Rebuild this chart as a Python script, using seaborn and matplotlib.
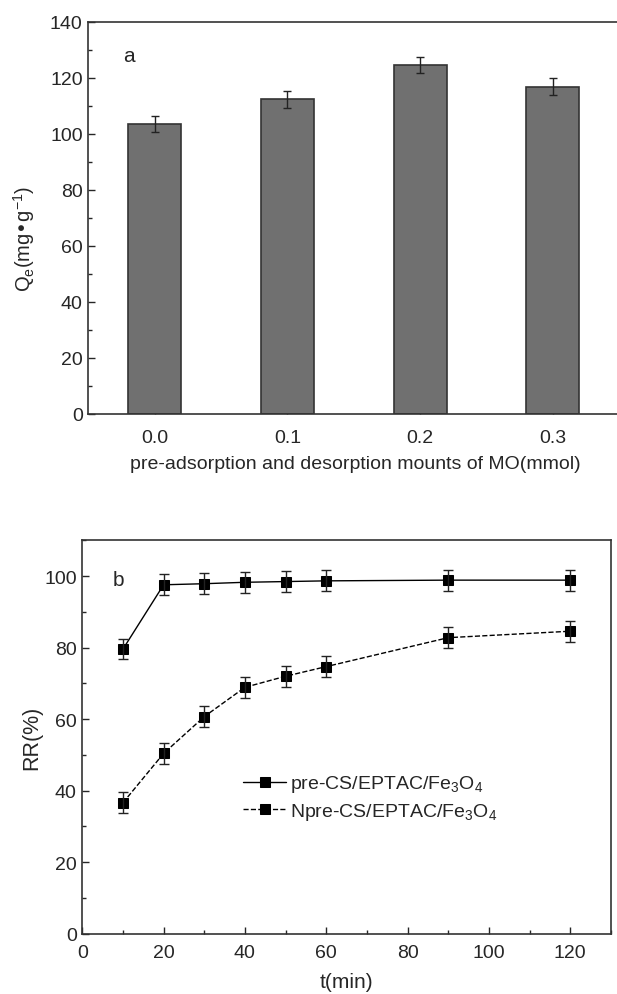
import seaborn as sns
import matplotlib.pyplot as plt
import numpy as np
import pandas as pd
from matplotlib.ticker import MultipleLocator

# panel a: Qe vs pre-adsorption amount
mo_amount = [0.0, 0.1, 0.2, 0.3]
qe_values = [103.5, 112.4, 124.7, 116.9]
qe_errors = [3.0, 3.0, 2.9, 3.0]

# panel b: removal ratio vs time
t_min = [10, 20, 30, 40, 50, 60, 90, 120]
rr_pre = [79.6, 97.6, 97.9, 98.3, 98.5, 98.7, 98.9, 98.9]
rr_npre = [36.6, 50.4, 60.7, 68.9, 72.0, 74.7, 82.8, 84.6]
rr_err = [2.9, 2.9, 2.9, 2.9, 2.9, 2.9, 2.9, 2.9]

sns.set_style("ticks")
plt.rcParams['font.family'] = ['Liberation Sans', 'DejaVu Sans']
plt.rcParams['xtick.direction'] = 'in'
plt.rcParams['ytick.direction'] = 'in'

fig = plt.figure(figsize=(6.17, 9.95), dpi=100)
# top panel runs past the right edge of the image (no right spine visible)
ax1 = fig.add_axes([0.143, 0.583, 0.867, 0.394])
ax2 = fig.add_axes([0.1334, 0.0608, 0.8566, 0.395])

# ---- panel a
df_a = pd.DataFrame({"mo": mo_amount, "qe": qe_values})
sns.barplot(data=df_a, x="mo", y="qe", native_scale=True, width=0.4,
            color="#707070", saturation=1, edgecolor="#333333", linewidth=1.2,
            errorbar=None, ax=ax1)
ax1.errorbar(mo_amount, qe_values, yerr=qe_errors, fmt="none", ecolor="#222222",
             elinewidth=1, capsize=3, capthick=1)
ax1.set_xlim(-0.05, 0.353)
ax1.set_ylim(0, 140)
ax1.set_xticks(mo_amount)
ax1.set_xticklabels(["0.0", "0.1", "0.2", "0.3"])
ax1.yaxis.set_major_locator(MultipleLocator(20))
ax1.yaxis.set_minor_locator(MultipleLocator(10))
ax1.set_xlabel("pre-adsorption and desorption mounts of MO(mmol)", fontsize=14, labelpad=6)
ax1.set_ylabel(r"Q$_\mathregular{e}$(mg•g$^\mathregular{-1}$)", fontsize=14.5, labelpad=2)
ax1.yaxis.set_label_coords(-0.095, 0.45)
ax1.text(0.066, 0.915, "a", transform=ax1.transAxes, fontsize=15, va="center")

# ---- panel b
sns.lineplot(x=t_min, y=rr_pre, ax=ax2, color="black", linewidth=1,
             marker="s", markersize=6.5, markeredgecolor="black",
             label=r"pre-CS/EPTAC/Fe$_\mathregular{3}$O$_\mathregular{4}$")
sns.lineplot(x=t_min, y=rr_npre, ax=ax2, color="black", linewidth=1,
             linestyle="--", dashes=(4, 2.5),
             marker="s", markersize=6.5, markeredgecolor="black",
             label=r"Npre-CS/EPTAC/Fe$_\mathregular{3}$O$_\mathregular{4}$")
ax2.errorbar(t_min, rr_pre, yerr=rr_err, fmt="none", ecolor="#222222",
             elinewidth=1, capsize=3.5, capthick=1)
ax2.errorbar(t_min, rr_npre, yerr=rr_err, fmt="none", ecolor="#222222",
             elinewidth=1, capsize=3.5, capthick=1)
ax2.set_xlim(0, 130)
ax2.set_ylim(0, 110)
ax2.xaxis.set_major_locator(MultipleLocator(20))
ax2.xaxis.set_minor_locator(MultipleLocator(10))
ax2.yaxis.set_major_locator(MultipleLocator(20))
ax2.yaxis.set_minor_locator(MultipleLocator(10))
ax2.set_xlabel("t(min)", fontsize=15, labelpad=8)
ax2.set_ylabel("RR(%)", fontsize=15.5, labelpad=1)
ax2.text(0.057, 0.90, "b", transform=ax2.transAxes, fontsize=15, va="center")
ax2.legend(loc="upper left", bbox_to_anchor=(0.29, 0.427), frameon=False,
           fontsize=14, handlelength=2.2, handletextpad=0.2, labelspacing=0.35,
           borderaxespad=0)

for ax in (ax1, ax2):
    for s in ax.spines.values():
        s.set_visible(True)
        s.set_linewidth(1.2)
        s.set_color("#333333")
    ax.tick_params(which="major", length=5, width=1, labelsize=14, pad=4)
    ax.tick_params(which="minor", length=3, width=1)
    ax.tick_params(top=False, right=False, which="both")

ax1.tick_params(axis="x", pad=11)
ax2.tick_params(axis="x", pad=7.5)

fig.savefig("out.png", dpi=100)
